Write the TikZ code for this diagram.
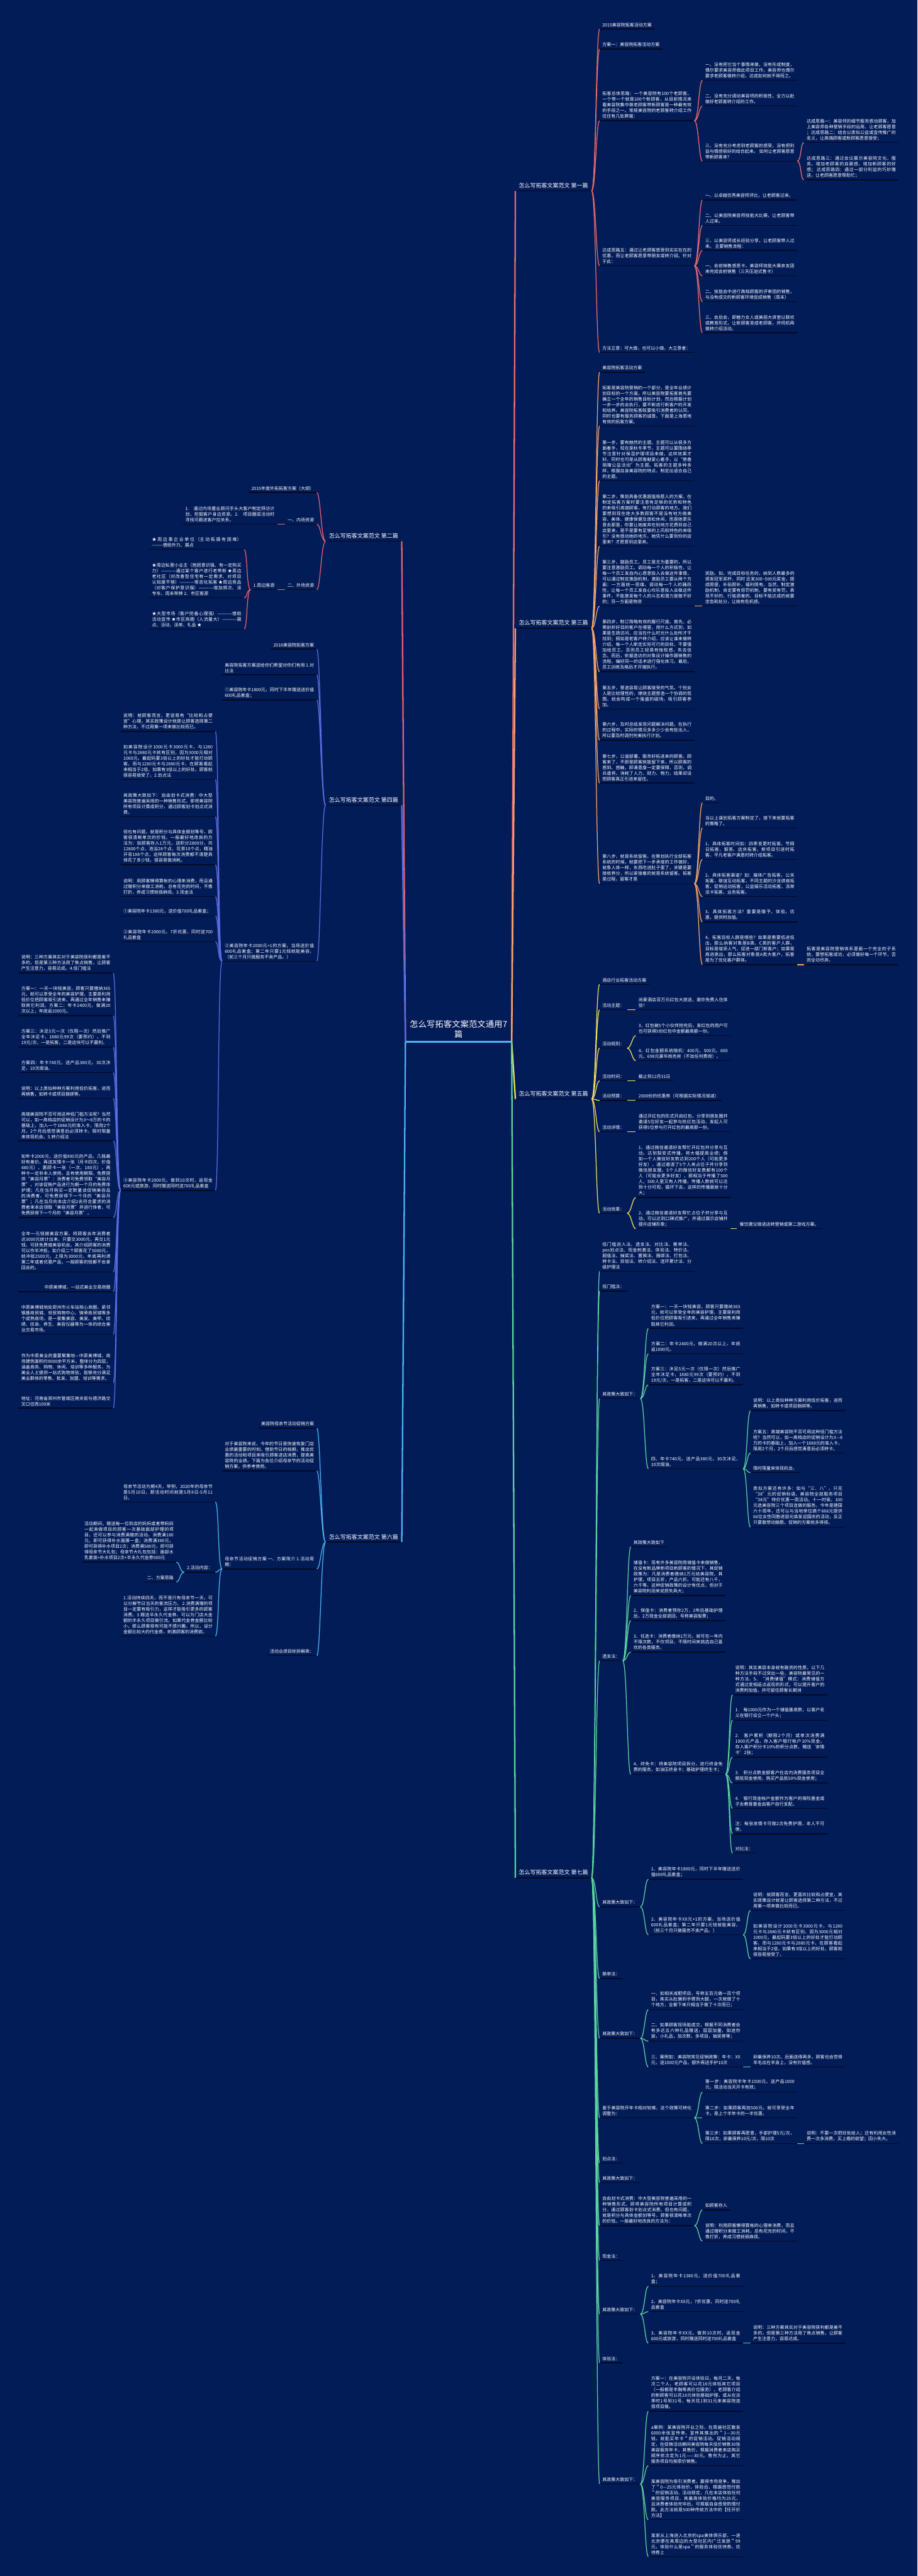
\documentclass[tikz,border=0pt]{standalone}
\usepackage{fontspec}
\setmainfont{Noto Sans CJK SC}
\XeTeXlinebreaklocale "zh"
\XeTeXlinebreakskip=0pt plus 1pt
\definecolor{bg}{HTML}{021C58}
\definecolor{ulc}{HTML}{010A22}
\definecolor{cA}{HTML}{EE6B6B}
\definecolor{cB}{HTML}{F5A46A}
\definecolor{cC}{HTML}{F2E05A}
\definecolor{cD}{HTML}{5DD3A0}
\definecolor{cE}{HTML}{E8606B}
\definecolor{cF}{HTML}{5B6CE0}
\definecolor{cG}{HTML}{4CB5F0}
\newcommand\smfont{\fontsize{3.5pt}{4.5pt}\selectfont}
\newcommand\ttlfont{\fontsize{4.5pt}{5.5pt}\selectfont}
\newcommand\cenfont{\fontsize{6.6pt}{8pt}\selectfont}
\tikzset{
  ulx/.style={draw=ulc, line width=0.025cm},
  base/.style={text=white, inner xsep=0.07cm, inner ysep=0.055cm, font=\smfont,
    append after command={(\tikzlastnode.south west) edge[ulx] (\tikzlastnode.south east)}},
  rn/.style={base, anchor=south west},
  ln/.style={base, anchor=south east},
  w/.style={text width=2.49cm, align=justify},
  ttl/.style={font=\ttlfont, inner xsep=0.09cm, inner ysep=0.07cm},
  rc/.style={draw=#1, line width=0.022cm, to path={.. controls +(0.12,0) and +(-0.1,0) .. (\tikztotarget)}},
  lc/.style={draw=#1, line width=0.022cm, to path={.. controls +(-0.12,0) and +(0.1,0) .. (\tikztotarget)}},
  trunk/.style={draw=#1, line width=0.04cm},
}
\begin{document}
\begin{tikzpicture}
\fill[bg] (0,0) rectangle (25.6,-71.91);
\useasboundingbox (0,0) rectangle (25.6,-71.91);

% center
\node[text=white, font=\cenfont, align=center, text width=2.81cm, inner xsep=0.07cm, inner ysep=0.1cm, anchor=south] (c0) at (12.795,-29.08) {怎么写拓客文案范文通用7\\篇};
\draw[cG, line width=0.04cm] (c0.south west) -- (c0.south east);

% branches
\node[rn,ttl] (b1) at (14.38,-5.33) {怎么写拓客文案范文 第一篇};
\node[rn,ttl] (b3) at (14.38,-17.54) {怎么写拓客文案范文 第三篇};
\node[rn,ttl] (b5) at (14.38,-30.68) {怎么写拓客文案范文 第五篇};
\node[rn,ttl] (b7) at (14.38,-52.42) {怎么写拓客文案范文 第七篇};
\node[ln,ttl] (b2) at (11.21,-15.11) {怎么写拓客文案范文 第二篇};
\node[ln,ttl] (b4) at (11.21,-22.48) {怎么写拓客文案范文 第四篇};
\node[ln,ttl] (b6) at (11.21,-43.05) {怎么写拓客文案范文 第六篇};

% ===== 第一篇
\node[rn] (a1) at (16.73,-0.81) {2015美容院拓客活动方案};
\node[rn] (a2) at (16.73,-1.37) {方案一：美容院拓客活动方案};
\node[rn,w] (a3) at (16.73,-3.37) {拓客总体思路：一个美容院有100个老顾客，一个带一个就是100个新顾客，从目前情况来看美容院集中做老顾客带新顾客是一种最有效的手段之一。常规美容院的老顾客转介绍工作往往有几处弊端：};
\node[rn,w] (a3a) at (19.60,-2.24) {一、没有把它当个事情来做，没有形成制度，偶尔要求美容师做此项目工作，美容师也偶尔要求老顾客做转介绍，达成如何就不得而之。};
\node[rn,w] (a3b) at (19.60,-2.96) {二、没有充分调动美容师的积极性，全力以赴做好老顾客转介绍的工作。};
\node[rn,w] (a3c) at (19.60,-4.50) {三、没有充分考虑到老顾客的感受，没有把利益与情感很好的结合起来。 如何让老顾客愿意带新顾客来？};
\node[rn,w] (a3c1) at (22.43,-3.98) {达成思路一：美容师的细节服务感动顾客，加上美容师各种营销手段的运用，让老顾客愿意 ；达成思路二：结合以类似公益或宣传推广的名义，让高端顾客或新顾客愿意接受；};
\node[rn,w] (a3c2) at (22.43,-5.02) {达成思路三：通过会议展示美容院文化，服务，增加老顾客的自豪感，增加新顾客的好感； 达成思路四：通过一部分利益的巧妙赠送，让老顾客愿意帮助忙；};
\node[rn,w] (a4) at (16.73,-7.42) {达成思路五：通过让老顾客感受到实实在在的优惠，而让老顾客愿意带朋友或转介绍。针对于此：};
\node[rn,w] (a4a) at (19.60,-5.58) {一、以卓越优秀美容师评比，让老顾客过来。};
\node[rn,w] (a4b) at (19.60,-6.29) {二、以美容院美容师技能大比赛，让老顾客带人过来。};
\node[rn,w] (a4c) at (19.60,-6.99) {三、以美容师成长经验分享，让老顾客带人过来。 主要销售流程：};
\node[rn,w] (a4d) at (19.60,-7.70) {一、会前销售感恩卡，美容师技能大赛亲友团来完成会前销售（三天压迫式售卡）};
\node[rn,w] (a4e) at (19.60,-8.42) {二、技能会中进行高档顾客的评审团的销售，与没有成交的新顾客环境促成销售（周末）};
\node[rn,w] (a4f) at (19.60,-9.29) {三、会后会，即魅力女人或美丽大讲堂以联欢或教育形式，让新顾客变成老顾客，并伺机再做转介绍活动。};
\node[rn,w] (a5) at (16.73,-9.84) {方法立意：可大做，也可以小做。大立意者：};

% ===== 第三篇
\node[rn] (c1) at (16.73,-10.39) {美容院拓客活动方案};
\node[rn,w] (c2) at (16.73,-11.89) {拓客是美容院营销的一个部分，是全年业绩计划目标的一个方面，所以美容院要拓客首先要确立一个全年的销售目标计划，然后根据计划一步一步的去执行，要不断进行新客户的开发和培养。美容院拓客既要吸引消费者的认同，同时也要有服务顾客的诚意。下面是上海恩地有效的拓客方案。};
\node[rn,w] (c3) at (16.73,-13.42) {第一步，要有赫然的主题。主题可以从很多方面着手，现在是秋冬季节，主题可以要围绕季节注意针对保湿护理项目来做，这样效果才好。同时也可是从顾客献爱心着手，以“慈善捐赠公益活动”为主题。拓客的主题多种多样，根据自身美容院的特点，制定出适合自己的主题。};
\node[rn,w] (c4) at (16.73,-15.25) {第二步，策划具备优惠超值吸惹人的方案。在制定拓客方案时要注意有足够的优势和特色的来吸引高端顾客，有打动顾客的地方。我们要想到现在绝大多数顾客不是没有地方做美容、美体、健康保健及放松休闲，而是她更乐意去那里，你要让她废弃在别地方花费到自己店里来，是不是要有足够的上风和特色的来吸引？没有感动她的地方，她凭什么要到你的店里来？才愿意到店里来。};
\node[rn,w] (c5) at (16.73,-16.92) {第三步，鼓励员工。员工是尤为重要的，所以要注意激励员工。调动每一个人的积极性，让每一个员工发自内心愿意投入去做这件事情，可以通过制定激励机制，激励员工要从两个方面：一方面统一思维，调动每一个人的踊跃性，让每一个员工发自心坎乐意投入去做这件事件，不能激发每个人的斗志和潜力是做不好的；另一方面是物资};
\node[rn,w] (c5a) at (19.60,-16.92) {奖励。如，完成目标任务的，纳到人数最多的颁发冠军奖杯，同时 还发300\textasciitilde500元奖金，提成照提，补贴照补，福利照有。当然，制定激励机制，肯定要有惩罚机制，要有奖有罚，表现不好的、行能源差的、目标不能达成的就要忠告和处分，让她有危机感。};
\node[rn,w] (c6) at (16.73,-18.75) {第四步，制订简略有效的履行尺度。首先，必需剖析好目的客户在哪里，用什么方式到，如果是生疏访问，应当在什么时光什么处所才干找到；假如是老客户转介绍，应该让谁来做转介绍，每一个人断定实际可行的目标，不要强加给员工，否则员工轻易有挫败感，失去信念。而后，依据造访的对象设计操作跟销售的流程，编好同一的话术进行强化练习。最后，员工训练及格后才开端执行。};
\node[rn,w] (c7) at (16.73,-19.79) {第五步，营造容易让顾客接受的气氛。个别女人是比较理性的，缭绕主题营造一个协调的氛围，就会构成一个强盛的磁场，吸引顾客参加。};
\node[rn,w] (c8) at (16.73,-20.66) {第六步，及时总结发现问题解决问题。在执行的过程中，实际的情况多多少少会有些出入，所以要及时调剂完美执行计划。};
\node[rn,w] (c9) at (16.73,-21.86) {第七步，公道部署，服务好拓进来的顾客。顾客来了，不即是顾客就能留下来，所以顾客的感到、感触，即满意度一定要保障，否则，调兵遣将，消耗了人力、财力、物力，结果却没把顾客真正引进来留住。};
\node[rn,w] (c10) at (16.73,-24.67) {第八步，就是系统留客。在策划执行全部拓客系统的时候，就要把下一步承接的工作做好，就象人体一样，东西吃进肚子里了，关键是要接收养分，所以紧接着的就是系统留客。拓客是过程，留客才是};
\node[rn] (c10a) at (19.60,-22.41) {目的。};
\node[rn,w] (c10b) at (19.60,-23.11) {当以上谋划拓客方案制定了，接下来就要拓客的策略了。};
\node[rn,w] (c10c) at (19.60,-23.99) {1、具体拓客时间如：四季变更时拓客，节假日拓客，报答、店庆拓客，新项目引进时拓客，平凡老客户满意时转介绍拓客。};
\node[rn,w] (c10d) at (19.60,-25.03) {2、具体拓客渠道？如：媒体广告拓客，公关拓客，联谊互动拓客，不同主题的沙龙讲座拓客，促销运动拓客，公益娱乐活动拓客，派单派卡拓客，业务拓客。};
\node[rn,w] (c10e) at (19.60,-25.74) {3、具体拓客方法？重要是赠予，体验，优惠，提供附加值。};
\node[rn,w] (c10f) at (19.60,-26.93) {4、拓客目标人群是哪些？如果是需要低进低出，那么纳客对象是B类、C类的客户人群，目标是增添人气，促进一部门新客户；如果是高进高出，那么拓客对象是A类大客户，拓客是为了优化客户群体。};
\node[rn,w] (c10f1) at (22.43,-26.93) {拓客是美容院营销体系里面一个完全的子系统，要想拓客成功，必须做好每一个环节，否则全功尽弃。};

% ===== 第五篇
\node[rn] (e1) at (16.73,-27.48) {酒店行业拓客活动方案};
\node[rn] (e2) at (16.73,-28.19) {活动主题：};
\node[rn,w] (e2a) at (17.74,-28.19) {尚豪酒店百万元红包大放送，邀你免费入住体验！};
\node[rn] (e3) at (16.73,-29.26) {活动规则：};
\node[rn,w] (e3a) at (17.74,-28.91) {3、红包被5个小伙伴抢完后，发红包的用户可也可获得5份红包中金额最高额一份。};
\node[rn,w] (e3b) at (17.74,-29.61) {4、红包金额系统随机：400元、500元、600元、698元豪华商务房（不加任何费用）。};
\node[rn] (e4) at (16.73,-30.17) {活动时间：};
\node[rn] (e4a) at (17.74,-30.17) {截止到12月31日};
\node[rn] (e5) at (16.73,-30.72) {活动预算：};
\node[rn] (e5a) at (17.74,-30.72) {2000份的优惠券（可根据实际情况增减）};
\node[rn] (e6) at (16.73,-31.59) {活动详情：};
\node[rn,w] (e6a) at (17.74,-31.59) {通过开红包的形式开启红包，分享到朋友圈并邀请5位好友一起参与抢红包活动，发起人可获得5位参与打开红包的最高那一份。};
\node[rn] (e7) at (16.73,-33.87) {活动效果：};
\node[rn,w] (e7a) at (17.74,-33.43) {1、通过微信邀请好友帮忙开红包并分享与互动，达到裂变式传播，将大幅提高业绩；假如一个人微信好友数达到200个人（可能更多好友），通过邀请了5个人来占位子并分享到微信朋友圈，5个人的微信好友数都有100个人（可能会更多好友），那相当于传播了500人，500人里又有人传播，传播人数就可以达到十分可观，循环下去，这样的传播面就十分大；};
\node[rn,w] (e7b) at (17.74,-34.30) {2、通过微信邀请好友帮忙占位子并分享与互动，可以达到口碑式推广，并通过展示店铺并提升店铺形象；};
\node[rn] (e7b1) at (20.56,-34.30) {餐饮建议做进店转营销或第二游戏方案。};

% ===== 第七篇
\node[rn,w] (g1) at (16.73,-35.49) {低门槛进入法、透支法、对比法、撕单法、pos划点法、现金刺激法、体验法、特价法、超值法、抽奖法、置换法、捆绑法、打包法、转卡法、双倍法、转介绍法、连环累计法、分级护理法};
\node[rn] (g2) at (16.73,-36.04) {低门槛法：};
\node[rn] (g3) at (16.73,-39.04) {其政策大致如下：};
\node[rn,w] (g3a) at (18.09,-37.08) {方案一：一天一块钱美容，顾客只要缴纳365元，就可以享受全年的美容护理，主要是利用低价位把顾客吸引进来，再通过全年销售来赚取其它利润。};
\node[rn,w] (g3b) at (18.09,-37.79) {方案二：年卡2400元，做满20次以上，年底返1000元。};
\node[rn,w] (g3c) at (18.09,-38.66) {方案三：沐足5元一次（仅限一次）然后推广全年沐足卡，1880元99次（要预约），不到19元/次，一是拓客，二是这块可以不赢利。};
\node[rn,w] (g3d) at (18.09,-41.00) {四、年卡740元，送产品380元，30次沐足，10次焗油。};
\node[rn,w] (g3d1) at (20.94,-39.38) {说明：以上类似种种方案利用低价拓客，进而再销售，如转卡或项目捆绑等。};
\node[rn,w] (g3d2) at (20.94,-40.56) {方案五：高端美容院不否可用这种低门槛方法呢？当然可以，如一高档店的促销设计为3—8万的卡的基础上，加入一个1888元的准入卡，限用2个月，2个月后感觉满意后必须转卡。};
\node[rn] (g3d3) at (20.94,-41.11) {限时限量来体现机会。};
\node[rn,w] (g3d4) at (20.94,-42.63) {类似方案还有许多：如与“三．八”，只花“38”元的促销标语，美容院全部服务项目“38元”特价优惠一周活动。十一时侯，100元选美容院三个项目连做的服务。今年是建国六十周年，还可以与当地单位搞个666元提供66位女性同胞进容光焕发迎国庆的活动，反正只要敢想动脑筋，促销的方案就多得很。};
\node[rn] (g4) at (16.73,-46.36) {透支法：};
\node[rn] (g4a) at (17.60,-43.18) {其政策大致如下};
\node[rn,w] (g4b) at (17.60,-44.54) {储值卡：现有许多美容院用储值卡来做销售，在没有新品牌新项目新顾客的情况下，其促销政策为：凡是消费者缴纳1万元给美容院，其护理，项目五折，产品六折。可能还有八千，六千等。这种促销政策的设计有优点，但对于美容院利润来说损失具大；};
\node[rn,w] (g4c) at (17.60,-45.24) {2、保值卡：消费者预存2万，2年后基础护理后，2万现金全部退回，号称美容股票；};
\node[rn,w] (g4d) at (17.60,-46.12) {3、任选卡：消费者缴纳1万元，就可在一年内不限次数，不仅项目，不限时间来挑选自己喜欢的各类服务。};
\node[rn,w] (g4e) at (17.60,-49.53) {4、终免卡：将美容院项目拆分，进行终身免费的服务，如油压终身卡；基础护理终生卡；};
\node[rn,w] (g4e1) at (20.44,-47.31) {说明：其实美容本身就有融资的性质，以下几种方法手段不过突出一些，美容院最常见的一种方法，5、“消费储值”模式：消费储值方式通过变相返点返现的形式，可以提升客户的消费附加值，并可留住顾客长期消};
\node[rn,w] (g4e2) at (20.44,-48.02) {1.　每1000元作为一个储值基底数，以客户名义在银行设立一个户头；};
\node[rn,w] (g4e3) at (20.44,-49.05) {2.　客户累积（期限2个月）或单次消费满1000元产品，存入客户银行帐户10\%现金，存入客户积分卡10\%的积分点数，赠送‘亲情卡’2张；};
\node[rn,w] (g4e4) at (20.44,-49.77) {3.　积分点数金额客户在店内消费服务项目全额抵现金使用，购买产品抵50\%现金使用；};
\node[rn,w] (g4e5) at (20.44,-50.48) {4.　银行现金帐户金额作为客户的保险基金或子女教育基金由客户自行支配。};
\node[rn,w] (g4e6) at (20.44,-51.19) {注：每张亲情卡可做2次免费护理，本人不可使。};
\node[rn] (g4e7) at (20.44,-51.73) {对比法：};
\node[rn] (g5) at (16.73,-53.23) {其政策大致如下：};
\node[rn,w] (g5a) at (18.09,-52.46) {1、美容院年卡1800元，同时下半年赠送送价值600礼品套盒；};
\node[rn,w] (g5b) at (18.09,-54.01) {2、美容院年卡XX元+1的方案，当场送价值600礼品套盒；第二年只要1元钱就能美容，（前三个月只做服务不卖产品。）};
\node[rn,w] (g5b1) at (20.94,-53.33) {说明：就顾客而言，更喜欢比较和占便宜，其实政策设计就是让顾客选择第二种方法，不过用第一项来做比较而已。};
\node[rn,w] (g5b2) at (20.94,-54.68) {如美容院设计1000元卡3000元卡，与1280元卡与2880元卡就有区别，因为3000元相对1000元，最起码要3倍以上的好处才能打动顾客，而与1280元卡与2880元卡，在顾客看起来相当于2倍，如果有3倍以上的好处，顾客就很容易接受了。};
\node[rn] (g6) at (16.73,-55.23) {撕单法：};
\node[rn] (g7) at (16.73,-56.90) {其政策大致如下：};
\node[rn,w] (g7a) at (18.09,-56.10) {一、如相关减肥项目，号称五百元做一百个项目，其实从肚腩到手臂到大腿，一次就做了十个地方，全套下来只相当于做了十次而已；};
\node[rn,w] (g7b) at (18.09,-56.98) {二、如果顾客现场能成交，根据不同消费者会有多达五六种礼品赠送，层层加量，如迷你装，小礼品，加次数，多项目，抽奖券等；};
\node[rn,w] (g7c) at (18.09,-57.70) {三、案例如：美容院常见促销政策：年卡：XX元，送1000元产品，额外再送手护10次};
\node[rn,w] (g7c1) at (20.94,-57.70) {卵巢保养10次。后面送得再多，顾客也会觉得羊毛出在羊身上，没有价值感。};
\node[rn,w] (g8) at (16.73,-59.12) {鉴于美容院开年卡相对较难，这个政策可转化调整为：};
\node[rn,w] (g8a) at (19.60,-58.40) {第一步：美容院半年卡1500元，送产品1000元，限活动当天开卡有效；};
\node[rn,w] (g8b) at (19.60,-59.12) {第二步：如果顾客再加500元，就可享受全年卡，是上个半年卡的一半优惠。};
\node[rn,w] (g8c) at (19.60,-59.84) {第三步：如果顾客再愿意，手部护理5元/次，限10次，卵巢保养10元/次，限10次};
\node[rn,w] (g8c1) at (22.43,-59.84) {说明：不要一次把好处给人；还有利用女性消费一次多消费，买上瘾的欲望；因小失大。};
\node[rn] (g9) at (16.73,-60.38) {划点法：};
\node[rn] (g10) at (16.73,-60.93) {其政策大致如下：};
\node[rn,w] (g11) at (16.73,-62.13) {自由划卡式消费：中大型美容院普遍采用的一种销售形式，即将美容院所有项目计算成积分，通过顾客划卡划点式消费。但也有问题，就是积分与具体金额划等号，顾客很清晰单次的价钱，一般最好地改良的方法为：};
\node[rn] (g11a) at (19.60,-61.69) {如顾客存入};
\node[rn,w] (g11b) at (19.60,-62.56) {说明：利用顾客懒得算帐的心理来消费，而且通过赠积分来做工消耗，总有花完的时间，不像打折，养成习惯就很麻烦。};
\node[rn] (g12) at (16.73,-63.10) {现金法：};
\node[rn] (g13) at (16.73,-64.60) {其政策大致如下：};
\node[rn,w] (g13a) at (18.09,-63.82) {1、美容院年卡1380元，送价值700礼品套盒；};
\node[rn,w] (g13b) at (18.09,-64.53) {2、美容院年卡XX元，7折优惠，同时送700礼品套盒};
\node[rn,w] (g13c) at (18.09,-65.41) {3、美容院年卡XX元，做到10次时，返现金600元或旅游，同时赠送同时送700礼品套盒};
\node[rn,w] (g13c1) at (20.94,-65.41) {说明：三种方案其实对于美容院获利都是差不多的，但是第三种方法用了焦点销售，让顾客产生注意力，容易达成。};
\node[rn] (g14) at (16.73,-65.96) {体验法：};
\node[rn] (g15) at (16.73,-69.34) {其政策大致如下：};
\node[rn,w] (g15a) at (18.09,-67.31) {方案一：在美容院开设体验日，每月二天，每次二个人，老顾客可以花18元体验其它项目（一般都是丰胸等高价位服务），老顾客介绍的新顾客可以花18元体验基础护理，或从在淡季时1号到31号，每天花1到31元来美容院选择项目做。};
\node[rn,w] (g15b) at (18.09,-68.83) {a案例：某美容院开业之际，在周遍社区散发6000余张宣传单，宣传其推出的＂1—30元钱，就能买年卡＂的促销活动。促销活动规定，在促销活动期间美容院每天低价销售30张美容服务年卡，其售价，根据消费者来店购买顺序依次定为1元——30元。售完为止，其它服务项目均按原价销售。};
\node[rn,w] (g15c) at (18.09,-70.34) {某美容院为吸引消费者，赢得市场竞争，推出了＂0—25元体验价，体验后，根据感觉付款＂的促销活动。活动规定，凡在本店体验任何美容服务项目，其最高体验价格均为25元，且消费者体验完毕后，可根据自身感受酌情付款。此方法就是500种传统方法中的【任开价方法】};
\node[rn,w] (g15d) at (18.09,-71.37) {某家从上海进入北京的spa美体俱乐部，一进北京便在其周边的大型社区内广泛发放＂99元，体验什么是spa＂的服务体验优待券。优待券上};

% ===== 第二篇
\node[ln] (d1) at (8.84,-13.75) {2015年度外拓拓客方案（大纲）};
\node[ln] (d2) at (8.84,-14.63) {一、内场资源};
\node[ln,w] (d2a) at (7.74,-14.63) {1.　通过内场置业顾问手头大客户制定拜访计划，挖掘客户身边资源。2.　项目圈层活动时寻找可跟进客户拉关系。};
\node[ln] (d3) at (8.84,-16.46) {二、外场资源};
\node[ln] (d3a) at (7.74,-16.46) {1.周边客源};
\node[ln,w] (d3a1) at (6.81,-15.34) {★周边事企业单位（主动拓展有困难）———借助外力、展点};
\node[ln,w] (d3a2) at (6.81,-16.69) {★周边私营小业主（抱团意识强、有一定购买力）————通过某个客户进行老带新 ★周边老社区（对改善型住宅有一定需求、对项目认知度不够）————常态化拓客 ★周边竞品（对客户保护意识强）————增加频次、派专车、周末举牌 2．市区客源};
\node[ln,w] (d3a3) at (6.81,-17.56) {★大型市场（客户防备心理强）————借助活动宣传 ★市区商圈（人流量大）————展点、活动、派单、礼品 ★};

% ===== 第四篇
\node[ln] (f1) at (8.84,-18.12) {2018美容院拓客方案};
\node[ln,w] (f2) at (8.84,-18.84) {美容院拓客方案送给你们希望对你们有用 1.对比法};
\node[ln,w] (f3) at (8.84,-19.54) {①美容院年卡1800元，同时下半年赠送送价值600礼品套盒；};
\node[ln,w] (f4) at (8.84,-26.83) {②美容院年卡2000元+1的方案，当场送价值600礼品套盒；第二年只要1元钱就能美容，（前三个月只做服务不卖产品。）};
\node[ln,w] (f4a) at (6.01,-20.42) {说明：就顾客而言，更容易有“比较和占便宜”心理，其实政策设计就是让顾客选择第二种方法，不过用第一项来做比较而已。};
\node[ln,w] (f4b) at (6.01,-21.76) {如美容院设计1000元卡3000元卡，与1280元卡与2880元卡就有区别，因为3000元相对1000元，最起码要3倍以上的好处才能打动顾客，而与1280元卡与2880元卡，在顾客看起来相当于2倍，如果有3倍以上的好处，顾客就很容易接受了。2.划点法};
\node[ln,w] (f4c) at (6.01,-22.80) {其政策大致如下： 自由划卡式消费：中大型美容院普遍采用的一种销售形式，即将美容院所有项目计算成积分，通过顾客划卡划点式消费。};
\node[ln,w] (f4d) at (6.01,-24.14) {但也有问题，就是积分与具体金额划等号，顾客很清晰单次的价钱，一般最好地改良的方法为：如顾客存入1万元，送积分2800分，共12800个点，泡浴28个点，花茶10个点，精油开背188个点，这样顾客每次消费都不清楚具体花了多少钱，很容易做消耗。};
\node[ln,w] (f4e) at (6.01,-25.03) {说明：用顾客懒得算帐的心理来消费，而且通过赠积分来做工消耗，总有花完的时间，不像打折，养成习惯就很麻烦。3.现金法};
\node[ln,w] (f4f) at (6.01,-25.57) {①美容院年卡1380元，送价值700礼品套盒；};
\node[ln,w] (f4g) at (6.01,-26.29) {②美容院年卡2000元，7折优惠，同时送700礼品套盒};
\node[ln,w] (f4h) at (6.01,-33.23) {③美容院年卡2000元，做到10次时，返现金600元或旅游，同时赠送同时送700礼品套盒};
\node[ln,w] (h1) at (3.16,-27.16) {说明：三种方案其实对于美容院获利都是差不多的，但是第三种方法用了焦点销售，让顾客产生注意力，容易达成。4.低门槛法};
\node[ln,w] (h2) at (3.16,-28.35) {方案一：一天一块钱美容，顾客只要缴纳365元，就可以享受全年的美容护理，主要是利用低价位把顾客吸引进来，再通过全年销售来赚取其它利润。方案二：年卡2400元，做满20次以上，年底返1000元。};
\node[ln,w] (h3) at (3.16,-29.23) {方案三：沐足5元一次（仅限一次）然后推广全年沐足卡，1880元99次（要预约），不到19元/次，一是拓客，二是这块可以不赢利。};
\node[ln,w] (h4) at (3.16,-29.94) {方案四：年卡740元，送产品380元，30次沐足，10次焗油。};
\node[ln,w] (h5) at (3.16,-30.66) {说明：以上类似种种方案利用低价拓客，进而再销售，如转卡或项目捆绑等。};
\node[ln,w] (h6) at (3.16,-31.85) {高端美容院不否可用这种低门槛方法呢？当然可以，如一高档店的促销设计为3～8万的卡的基础上，加入一个1888元的准入卡，限用2个月，2个月后感觉满意后必须转卡。限时限量来体现机会。5.转介绍法};
\node[ln,w] (h7) at (3.16,-33.99) {如年卡2000元，送价值900元的产品，几瓶最好有差价。再送友情卡一张（月卡四次，价值480元），惠顾卡一张（一次，180元），两种卡一定非本人使用，且有使用期限。免费提供“美容月票”：消费者可免费领取“美容月票”，对该促销产品进行为期一个月的免费体护理；凡在当月购买一定数量该促销美容品的消费者，可免费获得下一个月的“美容月票”；凡在当月向本店介绍2名符合要求的消费者来本店领取“美容月票”并进行体者，可免费获得下一个月的“美容月票”。};
\node[ln,w] (h8) at (3.16,-35.51) {全年一元钱做美容方案，将顾客去年消费者达3000元统计出来，只要交3000元，再交1元钱，可获免费做美容机会。其介绍顾客的消费可以作半冲抵，如介绍二个顾客花了5000元，就冲抵2500元，上限为3000元，年底再利诱第二年或者优惠产品，一般顾客的钱都不会拿回去的。};
\node[ln] (h9) at (3.16,-36.06) {\makebox[2.49cm][r]{中原美博城，一站式美业交易商圈}};
\node[ln,w] (h10) at (3.16,-37.25) {中原美博城地处郑州市火车站核心商圈，紧邻银基商贸城、世贸购物中心、锦荣商贸城等多个成熟商场，是一家集美容、美发、美甲、纹绣、纹身、养生、美容仪器等为一体的综合美业交易市场。};
\node[ln,w] (h11) at (3.16,-38.60) {作为中原美业的重要聚集地—中原美博城，商场建筑面积约9000余平方米，整体分为四层，涵盖商务、购物、休闲、培训等多种服务，为美业人士提供一站式购物体验，能够充分满足美业群体的零售、批发、加盟、培训等需求。};
\node[ln,w] (h12) at (3.16,-39.31) {地址：河南省郑州市管城区南关街与德济路交叉口往西100米};

% ===== 第六篇
\node[ln] (k1) at (8.84,-39.87) {美容院母亲节活动促销方案};
\node[ln,w] (k2) at (8.84,-41.06) {对于美容院来说，今年的节日是快速恢复门店业绩最重要的时刻。借助节日的档期，推出优惠的活动和项目来吸引顾客进店消费，提高美容院的业绩。下面为各位介绍母亲节的活动促销方案，供参考使用。};
\node[ln,w] (k3) at (8.84,-43.80) {母亲节活动促销方案 一、方案简介 1.活动周期：};
\node[ln,w] (k3a) at (6.01,-41.93) {母亲节活动为期4天，举例，2020年的母亲节是5月10日，那活动时间就是5月8日-5月11日。};
\node[ln] (k3b) at (6.01,-43.89) {2.活动内容：};
\node[ln,w] (k3b1) at (4.92,-43.61) {活动期间，赠送每一位到店的妈妈或者带妈妈一起来做项目的顾客一次基础面部护理的项目，还可以参与消费满赠的活动。消费满180元，即可获得补水面膜一盒；消费满380元，即可获得补水项目2次；消费满580元，即可获得母亲节大礼包；母亲节大礼包包括：面部水乳套装+补水项目2次+半永久代金券500元};
\node[ln] (k3b2) at (4.92,-44.16) {二、方案思路};
\node[ln,w] (k3c) at (6.01,-45.67) {1.活动持续四天，而不是只有母亲节一天，可以分解节日当天的客流压力。 2.消费满赠的项目一定要有吸引力，这样才能吸引更多的顾客消费。3.赠送半永久代金券，可以为门店大金额的半永久项目做引流。如果代金券金额比较小，那么顾客很有可能不感兴趣，所以，设计金额比较大的代金券，刺激顾客的消费欲。};
\node[ln] (k4) at (8.84,-46.22) {活动业绩目标拆解表：};

% ===== trunk
\draw[trunk=cA] (c0.south east) -- (b1.south west);
\draw[trunk=cB] (c0.south east) -- (b3.south west);
\draw[trunk=cC] (c0.south east) -- (b5.south west);
\draw[trunk=cD] (c0.south east) -- (b7.south west);
\draw[trunk=cE] (c0.south west) -- (b2.south east);
\draw[trunk=cF] (c0.south west) -- (b4.south east);
\draw[trunk=cG] (c0.south west) -- (b6.south east);

% ===== right connectors
\foreach \x in {a1,a2,a3,a4,a5} \draw[rc=cA] (b1.south east) to (\x.south west);
\foreach \x in {a3a,a3b,a3c} \draw[rc=cA] (a3.south east) to (\x.south west);
\foreach \x in {a3c1,a3c2} \draw[rc=cA] (a3c.south east) to (\x.south west);
\foreach \x in {a4a,a4b,a4c,a4d,a4e,a4f} \draw[rc=cA] (a4.south east) to (\x.south west);

\foreach \x in {c1,c2,c3,c4,c5,c6,c7,c8,c9,c10} \draw[rc=cB] (b3.south east) to (\x.south west);
\draw[rc=cB] (c5.south east) to (c5a.south west);
\foreach \x in {c10a,c10b,c10c,c10d,c10e,c10f} \draw[rc=cB] (c10.south east) to (\x.south west);
\draw[rc=cB] (c10f.south east) to (c10f1.south west);

\foreach \x in {e1,e2,e3,e4,e5,e6,e7} \draw[rc=cC] (b5.south east) to (\x.south west);
\draw[rc=cC] (e2.south east) to (e2a.south west);
\foreach \x in {e3a,e3b} \draw[rc=cC] (e3.south east) to (\x.south west);
\draw[rc=cC] (e4.south east) to (e4a.south west);
\draw[rc=cC] (e5.south east) to (e5a.south west);
\draw[rc=cC] (e6.south east) to (e6a.south west);
\foreach \x in {e7a,e7b} \draw[rc=cC] (e7.south east) to (\x.south west);
\draw[rc=cC] (e7b.south east) to (e7b1.south west);

\foreach \x in {g1,g2,g3,g4,g5,g6,g7,g8,g9,g10,g11,g12,g13,g14,g15} \draw[rc=cD] (b7.south east) to (\x.south west);
\foreach \x in {g3a,g3b,g3c,g3d} \draw[rc=cD] (g3.south east) to (\x.south west);
\foreach \x in {g3d1,g3d2,g3d3,g3d4} \draw[rc=cD] (g3d.south east) to (\x.south west);
\foreach \x in {g4a,g4b,g4c,g4d,g4e} \draw[rc=cD] (g4.south east) to (\x.south west);
\foreach \x in {g4e1,g4e2,g4e3,g4e4,g4e5,g4e6,g4e7} \draw[rc=cD] (g4e.south east) to (\x.south west);
\foreach \x in {g5a,g5b} \draw[rc=cD] (g5.south east) to (\x.south west);
\foreach \x in {g5b1,g5b2} \draw[rc=cD] (g5b.south east) to (\x.south west);
\foreach \x in {g7a,g7b,g7c} \draw[rc=cD] (g7.south east) to (\x.south west);
\draw[rc=cD] (g7c.south east) to (g7c1.south west);
\foreach \x in {g8a,g8b,g8c} \draw[rc=cD] (g8.south east) to (\x.south west);
\draw[rc=cD] (g8c.south east) to (g8c1.south west);
\foreach \x in {g11a,g11b} \draw[rc=cD] (g11.south east) to (\x.south west);
\foreach \x in {g13a,g13b,g13c} \draw[rc=cD] (g13.south east) to (\x.south west);
\draw[rc=cD] (g13c.south east) to (g13c1.south west);
\foreach \x in {g15a,g15b,g15c,g15d} \draw[rc=cD] (g15.south east) to (\x.south west);

% ===== left connectors
\foreach \x in {d1,d2,d3} \draw[lc=cE] (b2.south west) to (\x.south east);
\draw[lc=cE] (d2.south west) to (d2a.south east);
\draw[lc=cE] (d3.south west) to (d3a.south east);
\foreach \x in {d3a1,d3a2,d3a3} \draw[lc=cE] (d3a.south west) to (\x.south east);

\foreach \x in {f1,f2,f3,f4} \draw[lc=cF] (b4.south west) to (\x.south east);
\foreach \x in {f4a,f4b,f4c,f4d,f4e,f4f,f4g,f4h} \draw[lc=cF] (f4.south west) to (\x.south east);
\foreach \x in {h1,h2,h3,h4,h5,h6,h7,h8,h9,h10,h11,h12} \draw[lc=cF] (f4h.south west) to (\x.south east);

\foreach \x in {k1,k2,k3,k4} \draw[lc=cG] (b6.south west) to (\x.south east);
\foreach \x in {k3a,k3b,k3c} \draw[lc=cG] (k3.south west) to (\x.south east);
\foreach \x in {k3b1,k3b2} \draw[lc=cG] (k3b.south west) to (\x.south east);
\end{tikzpicture}
\end{document}
